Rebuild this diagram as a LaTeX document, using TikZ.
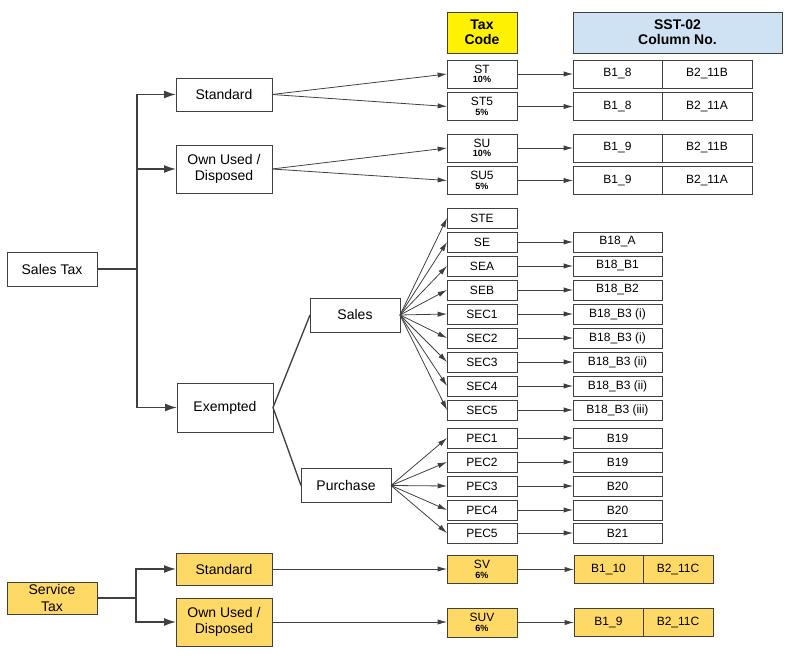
\documentclass[tikz,border=0pt]{standalone}
\usepackage{fontspec}
\setmainfont{Liberation Sans}
\usetikzlibrary{arrows.meta}
\definecolor{linec}{HTML}{404040}
\definecolor{servc}{HTML}{FFD966}
\definecolor{headb}{HTML}{CFE2F3}
\tikzset{
  box/.style={draw=linec, fill=white, line width=.7pt, align=center, inner sep=1pt, outer sep=0pt,
    minimum width=72pt, font=\fontsize{10.5}{12.5}\selectfont},
  code/.style={box, minimum width=52.5pt, minimum height=15pt, font=\fontsize{9}{9}\selectfont},
  rate/.style={code, minimum height=21pt},
  colbox/.style={box, minimum width=66.75pt, minimum height=21pt, font=\fontsize{9}{9}\selectfont},
  head/.style={box, minimum height=30.75pt, font=\fontsize{10.5}{11.5}\selectfont\bfseries},
  arr/.style={draw=linec, line width=.6pt, -{Latex[length=7pt,width=4pt]}},
  trunk/.style={draw=linec, line width=1.1pt, -{Latex[length=9pt,width=6pt]}}
}
\newcommand{\rt}[2]{#1\\[-2pt]{\fontsize{6.8}{7}\selectfont\bfseries #2}}
\begin{document}
\begin{tikzpicture}[x=0.75pt,y=-0.75pt]
\useasboundingbox (0,0) rectangle (794,666);
\node[head, fill=yellow, minimum width=52.5pt] (taxcode) at (482,32.5) {Tax\\Code};
\node[head, fill=headb, minimum width=156.75pt] (sst) at (677.5,32.5) {SST-02\\Column No.};

\node[box, minimum width=67.5pt, minimum height=25.5pt] (salestax) at (52,269) {Sales Tax};
\node[box, minimum height=24.75pt] (std) at (224,94.5) {Standard};
\node[box, minimum height=36pt] (own) at (224,169) {Own Used /\\Disposed};
\node[box, minimum height=36.75pt] (exempt) at (225,407.5) {Exempted};
\node[box, minimum width=67.5pt, minimum height=25.5pt] (sales) at (355,315) {Sales};
\node[box, minimum width=67.5pt, minimum height=26pt] (purch) at (346,485.5) {Purchase};

\node[rate] (ST) at (482,74) {\rt{ST}{10\%}};
\node[rate] (ST5) at (482,106.5) {\rt{ST5}{5\%}};
\node[rate] (SU) at (482,148) {\rt{SU}{10\%}};
\node[rate] (SU5) at (482,180.5) {\rt{SU5}{5\%}};
\node[colbox] (cST) at (617.5,74) {B1\_8};
\node[colbox, anchor=west, minimum width=67.5pt] at (cST.east) {B2\_11B};
\node[colbox] (cST5) at (617.5,106.5) {B1\_8};
\node[colbox, anchor=west, minimum width=67.5pt] at (cST5.east) {B2\_11A};
\node[colbox] (cSU) at (617.5,148) {B1\_9};
\node[colbox, anchor=west, minimum width=67.5pt] at (cSU.east) {B2\_11B};
\node[colbox] (cSU5) at (617.5,180.5) {B1\_9};
\node[colbox, anchor=west, minimum width=67.5pt] at (cSU5.east) {B2\_11A};

\node[code] (STE) at (482,218) {STE};
\node[code] (SE) at (482,242) {SE};
\node[code] (SEA) at (482,266) {SEA};
\node[code] (SEB) at (482,290) {SEB};
\node[code] (SEC1) at (482,314) {SEC1};
\node[code] (SEC2) at (482,338) {SEC2};
\node[code] (SEC3) at (482,362) {SEC3};
\node[code] (SEC4) at (482,386) {SEC4};
\node[code] (SEC5) at (482,410) {SEC5};
\node[code] (PEC1) at (482,438) {PEC1};
\node[code] (PEC2) at (482,462) {PEC2};
\node[code] (PEC3) at (482,486) {PEC3};
\node[code] (PEC4) at (482,510) {PEC4};
\node[code] (PEC5) at (482,533) {PEC5};

\node[colbox, minimum height=15pt] (cSE) at (617.5,242) {B18\_A};
\node[colbox, minimum height=15pt] (cSEA) at (617.5,266) {B18\_B1};
\node[colbox, minimum height=15pt] (cSEB) at (617.5,290) {B18\_B2};
\node[colbox, minimum height=15pt] (cSEC1) at (617.5,314) {B18\_B3 (i)};
\node[colbox, minimum height=15pt] (cSEC2) at (617.5,338) {B18\_B3 (i)};
\node[colbox, minimum height=15pt] (cSEC3) at (617.5,362) {B18\_B3 (ii)};
\node[colbox, minimum height=15pt] (cSEC4) at (617.5,386) {B18\_B3 (ii)};
\node[colbox, minimum height=15pt] (cSEC5) at (617.5,410) {B18\_B3 (iii)};
\node[colbox, minimum height=15pt] (cPEC1) at (617.5,438) {B19};
\node[colbox, minimum height=15pt] (cPEC2) at (617.5,462) {B19};
\node[colbox, minimum height=15pt] (cPEC3) at (617.5,486) {B20};
\node[colbox, minimum height=15pt] (cPEC4) at (617.5,510) {B20};
\node[colbox, minimum height=15pt] (cPEC5) at (617.5,533) {B21};

\node[box, fill=servc, minimum width=67.5pt, minimum height=24pt] (servtax) at (52,598) {Service\\Tax};
\node[box, fill=servc, minimum height=24pt] (sstd) at (224,569) {Standard};
\node[box, fill=servc, minimum height=36pt] (sown) at (224,622) {Own Used /\\Disposed};
\node[rate, fill=servc] (SV) at (482,569.5) {\rt{SV}{6\%}};
\node[rate, fill=servc, minimum height=21.75pt] (SUV) at (482,622.5) {\rt{SUV}{6\%}};
\node[colbox, fill=servc, minimum width=51.75pt] (cSV) at (608.5,569.5) {B1\_10};
\node[colbox, fill=servc, anchor=west, minimum width=52.5pt] at (cSV.east) {B2\_11C};
\node[colbox, fill=servc, minimum width=51.75pt] (cSUV) at (608.5,622.5) {B1\_9};
\node[colbox, fill=servc, anchor=west, minimum width=52.5pt] at (cSUV.east) {B2\_11C};

\coordinate (jsales) at (137,269);
\coordinate (jserv) at (136,598);
\draw[draw=linec, line width=1.1pt] (salestax.east) -- (jsales);
\draw[trunk] (jsales) |- (std.west);
\draw[trunk] (jsales) |- (own.west);
\draw[trunk] (jsales) |- (exempt.west);
\draw[draw=linec, line width=1.1pt] (servtax.east) -- (jserv);
\draw[trunk] (jserv) |- (sstd.west);
\draw[trunk] (jserv) |- (sown.west);

\draw[draw=linec, line width=1pt] (sales.west) -- (exempt.east) -- (purch.west);
\draw (std.east) edge[arr] (ST.west) edge[arr] (ST5.west);
\draw (own.east) edge[arr] (SU.west) edge[arr] (SU5.west);
\draw (sales.east) edge[arr] (STE.west) edge[arr] (SE.west) edge[arr] (SEA.west)
  edge[arr] (SEB.west) edge[arr] (SEC1.west) edge[arr] (SEC2.west) edge[arr] (SEC3.west)
  edge[arr] (SEC4.west) edge[arr] (SEC5.west);
\draw (purch.east) edge[arr] (PEC1.west) edge[arr] (PEC2.west) edge[arr] (PEC3.west)
  edge[arr] (PEC4.west) edge[arr] (PEC5.west);
\draw[arr] (sstd.east) -- (sstd.east -| SV.west);
\draw[arr] (sown.east) -- (sown.east -| SUV.west);

\draw[arr] (ST.east) -- (cST.west);
\draw[arr] (ST5.east) -- (cST5.west);
\draw[arr] (SU.east) -- (cSU.west);
\draw[arr] (SU5.east) -- (cSU5.west);
\draw[arr] (SE.east) -- (cSE.west);
\draw[arr] (SEA.east) -- (cSEA.west);
\draw[arr] (SEB.east) -- (cSEB.west);
\draw[arr] (SEC1.east) -- (cSEC1.west);
\draw[arr] (SEC2.east) -- (cSEC2.west);
\draw[arr] (SEC3.east) -- (cSEC3.west);
\draw[arr] (SEC4.east) -- (cSEC4.west);
\draw[arr] (SEC5.east) -- (cSEC5.west);
\draw[arr] (PEC1.east) -- (cPEC1.west);
\draw[arr] (PEC2.east) -- (cPEC2.west);
\draw[arr] (PEC3.east) -- (cPEC3.west);
\draw[arr] (PEC4.east) -- (cPEC4.west);
\draw[arr] (PEC5.east) -- (cPEC5.west);
\draw[arr] (SV.east) -- (cSV.west);
\draw[arr] (SUV.east) -- (cSUV.west);
\end{tikzpicture}
\end{document}
